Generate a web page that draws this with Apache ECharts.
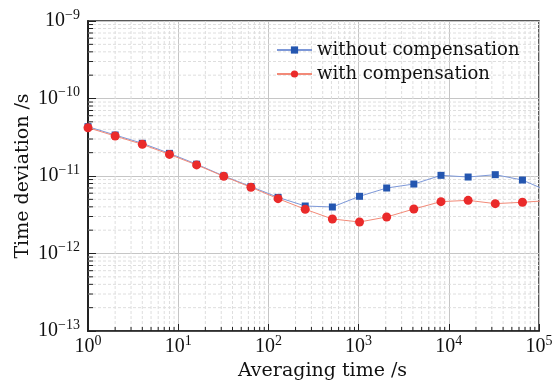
<!DOCTYPE html>
<html>
<head>
<meta charset="utf-8">
<script src="https://cdn.jsdelivr.net/npm/echarts@6/dist/echarts.min.js"></script>
<style>html,body{margin:0;padding:0;background:#fff}#c{width:560px;height:381px}</style>
</head>
<body>
<div id="c"></div>
<script>
const tau = [1, 2, 4, 8, 16, 32, 64, 128, 256, 512, 1024, 2048, 4096, 8192, 16384, 32768, 65536, 131072];
const withoutComp = [4.33e-11, 3.38e-11, 2.64e-11, 1.96e-11, 1.42e-11, 1.0e-11, 7.3e-12, 5.3e-12, 4.1e-12, 3.98e-12, 5.47e-12, 7.0e-12, 7.88e-12, 1.02e-11, 9.7e-12, 1.04e-11, 8.87e-12, 6.25e-12];
const withComp = [4.2e-11, 3.28e-11, 2.56e-11, 1.9e-11, 1.39e-11, 9.9e-12, 7.15e-12, 5.1e-12, 3.72e-12, 2.79e-12, 2.55e-12, 2.96e-12, 3.75e-12, 4.67e-12, 4.85e-12, 4.4e-12, 4.58e-12, 4.83e-12];
const seriesNames = ['without compensation', 'with compensation'];
const xName = 'Averaging time /s';
const yName = 'Time deviation /s';
const xMin = 1, xMax = 1e5, yMin = 1e-13, yMax = 1e-9;
const minorMult = [2, 3, 4, 5, 6, 7, 8, 9];
const xDecades = [1, 10, 100, 1000, 10000];
const yDecades = [1e-13, 1e-12, 1e-11, 1e-10];

const minorX = [];
xDecades.forEach(d => minorMult.forEach(m => minorX.push(m * d)));
const minorY = [];
yDecades.forEach(d => minorMult.forEach(m => minorY.push(m * d)));

const serif = 'Liberation Serif';
const nameFont = 'DejaVu Serif';
function powLabel(v) {
  const e = Math.round(Math.log10(v));
  const s = e < 0 ? '\u2212' + (-e) : String(e);
  return '{b|10}{s|' + s + '}';
}
const richLab = {
  b: {fontFamily: serif, fontSize: 20, color: '#111'},
  s: {fontFamily: serif, fontSize: 14, color: '#111', padding: [0, 0, 12, 0]}
};
const gridColor = '#c6c6c6';
const minorColor = '#dedede';

const chart = echarts.init(document.getElementById('c'), null, {renderer: 'canvas'});
chart.setOption({
  backgroundColor: '#fff',
  animation: false,
  grid: {left: 88, right: 21, top: 21, bottom: 50, show: true, borderColor: '#222', borderWidth: 1.5,
    outerBoundsMode: 'none', containLabel: false},
  legend: {
    orient: 'vertical', left: 276, top: 41, padding: 0, itemWidth: 35, itemHeight: 9, itemGap: 6,
    textStyle: {fontFamily: nameFont, fontSize: 18, color: '#111'},
    data: seriesNames
  },
  xAxis: {
    type: 'log', logBase: 10, min: xMin, max: xMax,
    name: xName, nameLocation: 'middle', nameGap: 27,
    nameTextStyle: {fontFamily: nameFont, fontSize: 19, color: '#111', padding: [0, 0, 0, 18]},
    axisLine: {show: true, onZero: false, lineStyle: {color: '#222', width: 1.5}},
    axisTick: {show: true, inside: true, length: 7, lineStyle: {color: '#222'}},
    axisLabel: {formatter: powLabel, rich: richLab, margin: 3},
    splitLine: {show: true, lineStyle: {color: gridColor, width: 1}}
  },
  yAxis: {
    type: 'log', logBase: 10, min: yMin, max: yMax,
    name: yName, nameLocation: 'middle', nameGap: 55, nameMoveOverlap: false,
    nameTextStyle: {fontFamily: nameFont, fontSize: 19, color: '#111'},
    axisLine: {show: true, onZero: false, lineStyle: {color: '#222', width: 2}},
    axisTick: {show: true, inside: true, length: 8, lineStyle: {color: '#222'}},
    axisLabel: {formatter: powLabel, rich: richLab, margin: 8},
    splitLine: {show: true, lineStyle: {color: gridColor, width: 1}}
  },
  series: [
    {
      type: 'custom', name: 'minorX', z: 1, silent: true, clip: false,
      data: minorX.map(v => [v, yMin]),
      encode: {x: 0, y: 1},
      renderItem: function (params, api) {
        const v = api.value(0);
        const tl = api.coord([xMin, yMax]);
        const br = api.coord([xMax, yMin]);
        const x = api.coord([v, yMin])[0];
        return {type: 'group', children: [
          {type: 'line', shape: {x1: x, y1: tl[1], x2: x, y2: br[1]},
            style: {stroke: minorColor, lineWidth: 1, lineDash: [3, 2]}, silent: true},
          {type: 'line', shape: {x1: x, y1: br[1], x2: x, y2: br[1] - 4},
            style: {stroke: '#222', lineWidth: 1}, silent: true}
        ]};
      }
    },
    {
      type: 'custom', name: 'minorY', z: 1, silent: true, clip: false,
      data: minorY.map(v => [xMin, v]),
      encode: {x: 0, y: 1},
      renderItem: function (params, api) {
        const v = api.value(1);
        const tl = api.coord([xMin, yMax]);
        const br = api.coord([xMax, yMin]);
        const y = api.coord([xMin, v])[1];
        return {type: 'group', children: [
          {type: 'line', shape: {x1: tl[0], y1: y, x2: br[0], y2: y},
            style: {stroke: minorColor, lineWidth: 1, lineDash: [3, 2]}, silent: true},
          {type: 'line', shape: {x1: tl[0], y1: y, x2: tl[0] + 5, y2: y},
            style: {stroke: '#222', lineWidth: 1}, silent: true}
        ]};
      }
    },
    {
      name: seriesNames[0], type: 'line', clip: true, z: 3,
      data: tau.map((t, i) => [t, withoutComp[i]]),
      symbol: 'rect', symbolSize: 7,
      itemStyle: {color: '#2456b0'},
      lineStyle: {color: '#7d98d8', width: 1}
    },
    {
      name: seriesNames[1], type: 'line', clip: true, z: 3,
      data: tau.map((t, i) => [t, withComp[i]]),
      symbol: 'circle', symbolSize: 9,
      itemStyle: {color: '#ea2a2a'},
      lineStyle: {color: '#f28a78', width: 1}
    }
  ]
});
</script>
</body>
</html>
